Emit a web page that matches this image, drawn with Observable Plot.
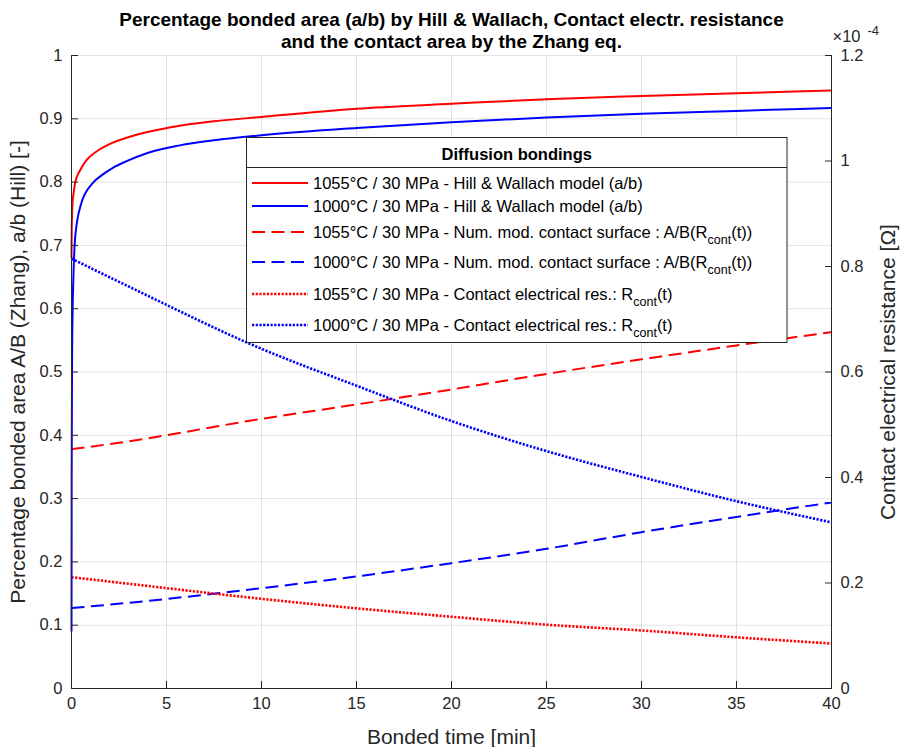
<!DOCTYPE html>
<html>
<head>
<meta charset="utf-8">
<script src="https://cdn.jsdelivr.net/npm/d3@7"></script>
<script src="https://cdn.jsdelivr.net/npm/@observablehq/plot@0.6"></script>
<style>
  html, body { margin: 0; padding: 0; background: #fff; }
  svg { display: block; }
</style>
</head>
<body>
<div id="chart"></div>
<script>
// ---- Hill & Wallach bonded fraction a/b (left axis, -) ----
const tHill1055 = [0, 0.01, 0.03, 0.06, 0.1, 0.2, 0.44, 0.8, 1.3, 2, 2.9, 4, 5.7, 7.5, 10, 15, 20, 25, 30, 35, 40];
const abHill1055 = [0.68, 0.72, 0.75, 0.77, 0.78, 0.80, 0.818, 0.835, 0.848, 0.86, 0.870, 0.879, 0.889, 0.896, 0.903, 0.916, 0.9237, 0.931, 0.936, 0.9405, 0.9447];
const tHill1000 = [0, 0.01, 0.03, 0.06, 0.1, 0.2, 0.5, 1.1, 1.6, 2.2, 2.9, 4, 5.7, 7.5, 10, 15, 20, 25, 30, 35, 40];
const abHill1000 = [0.09, 0.35, 0.52, 0.60, 0.65, 0.715, 0.765, 0.798, 0.811, 0.823, 0.833, 0.846, 0.858, 0.866, 0.874, 0.8855, 0.8947, 0.902, 0.9078, 0.9125, 0.917];

// ---- Numerical model contact surface A/B from R_cont(t) (left axis, -) ----
const tArea = [0, 2.9, 10, 15, 20, 25, 30, 35, 40];
const area1055 = [0.378, 0.390, 0.426, 0.4487, 0.4724, 0.497, 0.520, 0.542, 0.563];
const area1000 = [0.127, 0.135, 0.1585, 0.177, 0.198, 0.2207, 0.247, 0.271, 0.294];

// ---- Contact electrical resistance R_cont(t) (right axis, x1e-4 Ohm) ----
const tRes = [0, 2.9, 10, 15, 20, 25, 30, 35, 40];
const res1055 = [0.211, 0.199, 0.170, 0.152, 0.136, 0.121, 0.110, 0.097, 0.0853];
const res1000 = [0.815, 0.764, 0.644, 0.574, 0.507, 0.450, 0.401, 0.355, 0.315];

// ---- Axes ----
const xTicks = [0, 5, 10, 15, 20, 25, 30, 35, 40];
const leftTicks = [0, 0.1, 0.2, 0.3, 0.4, 0.5, 0.6, 0.7, 0.8, 0.9, 1];
const rightTicks = [0, 0.2, 0.4, 0.6, 0.8, 1, 1.2];   // x1e-4 Ohm
const rightMax = 1.2;                                 // right axis top, aligned with left top (1)

const titleText = "Percentage bonded area (a/b) by Hill & Wallach, Contact electr. resistance\nand the contact area by the Zhang eq.";
const xLabel = "Bonded time [min]";
const yLeftLabel = "Percentage bonded area A/B (Zhang), a/b (Hill) [-]";
const yRightLabel = "Contact electrical resistance [Ω]";
const legendTitle = "Diffusion bondings";
const seriesNames = [
  "1055°C / 30 MPa - Hill & Wallach model (a/b)",
  "1000°C / 30 MPa - Hill & Wallach model (a/b)",
  "1055°C / 30 MPa - Num. mod. contact surface : A/B(R_{cont}(t))",
  "1000°C / 30 MPa - Num. mod. contact surface : A/B(R_{cont}(t))",
  "1055°C / 30 MPa - Contact electrical res.: R_{cont}(t)",
  "1000°C / 30 MPa - Contact electrical res.: R_{cont}(t)"
];

const RED = "#ff0000", BLUE = "#0000ff";
const DASH = "13,6.5", DOT = "2.2,1.5";
const FONT = '"Liberation Sans", Arial, Helvetica, sans-serif';
const INK = "#262626";

const zip = (ts, vs) => ts.map((t, i) => ({t, v: vs[i]}));

const series = [
  {data: zip(tHill1055, abHill1055), stroke: RED, dash: null, width: 2, right: false},
  {data: zip(tHill1000, abHill1000), stroke: BLUE, dash: null, width: 2, right: false},
  {data: zip(tArea, area1055), stroke: RED, dash: DASH, width: 2, right: false},
  {data: zip(tArea, area1000), stroke: BLUE, dash: DASH, width: 2, right: false},
  {data: zip(tRes, res1055), stroke: RED, dash: DOT, width: 2.6, right: true},
  {data: zip(tRes, res1000), stroke: BLUE, dash: DOT, width: 2.6, right: true}
];

// Draw order: dashed and dotted first, then solid on top
const drawOrder = [2, 3, 4, 5, 0, 1];

const lineMarks = drawOrder.map(i => {
  const s = series[i];
  return Plot.line(s.data, {
    x: "t",
    y: s.right ? d => d.v / rightMax : "v",
    stroke: s.stroke,
    strokeWidth: s.width,
    strokeDasharray: s.dash,
    strokeLinecap: "butt",
    curve: "monotone-x"
  });
});

const fmt = d3.format("~g");

const chart = Plot.plot({
  width: 903,
  height: 747,
  marginTop: 55,
  marginRight: 72,
  marginBottom: 59,
  marginLeft: 71,
  style: {fontFamily: FONT, fontSize: "16.5px", color: INK, background: "#fff", overflow: "visible"},
  x: {domain: [0, 40]},
  y: {domain: [0, 1]},
  marks: [
    Plot.gridX(xTicks, {stroke: "#000", strokeOpacity: 0.11}),
    Plot.gridY(leftTicks, {stroke: "#000", strokeOpacity: 0.11}),
    ...lineMarks,
    Plot.ruleX([0, 40], {stroke: INK, strokeWidth: 1}),
    Plot.ruleY([0], {stroke: INK, strokeWidth: 1}),
    Plot.axisX(xTicks, {anchor: "bottom", tickSize: -7, tickPadding: 16, tickFormat: fmt, label: null, stroke: INK, fill: INK, fontSize: 16.5}),
    Plot.axisY(leftTicks, {anchor: "left", tickSize: -7, tickPadding: 16, tickFormat: fmt, label: null, stroke: INK, fill: INK, fontSize: 16.5}),
    Plot.axisY(rightTicks.map(v => v / rightMax), {anchor: "right", tickSize: -7, tickPadding: 16,
      tickFormat: d => fmt(+(d * rightMax).toFixed(4)), label: null, stroke: INK, fill: INK, fontSize: 16.5}),
    // title
    Plot.text([titleText], {frameAnchor: "top", lineAnchor: "middle", dy: -26, fontWeight: "bold", fontSize: 19, lineHeight: 1.16, fill: "#000"}),
    // axis labels
    Plot.text([xLabel], {frameAnchor: "bottom", lineAnchor: "middle", dy: 49, fontSize: 21, fill: INK}),
    Plot.text([yLeftLabel], {frameAnchor: "left", textAnchor: "middle", lineAnchor: "middle", dx: -53, rotate: -90, fontSize: 21, fill: INK}),
    Plot.text([yRightLabel], {frameAnchor: "right", textAnchor: "middle", lineAnchor: "middle", dx: 57, rotate: -90, fontSize: 21, fill: INK}),
    // exponent of the right axis
    Plot.text(["×10"], {frameAnchor: "top-right", textAnchor: "start", lineAnchor: "middle", dx: 1, dy: -19, fontSize: 16.5, fill: INK}),
    Plot.text(["-4"], {frameAnchor: "top-right", textAnchor: "start", lineAnchor: "middle", dx: 36, dy: -25, fontSize: 13, fill: INK})
  ]
});

document.getElementById("chart").appendChild(chart);

// ---- Legend box ----
const legend = {x: 246.5, y: 137.5, w: 540.5, h: 205, titleY: 154, sepY: 167.5,
  rowY: [183, 206, 232, 262, 294, 325], sampleX1: 252, sampleX2: 308, textX: 313};

const svg = d3.select(chart);
const g = svg.append("g")
  .attr("font-family", FONT).attr("font-size", 16.5).attr("fill", "#000")
  .attr("text-anchor", "start");
g.append("rect")
  .attr("x", legend.x).attr("y", legend.y).attr("width", legend.w).attr("height", legend.h)
  .attr("fill", "#fff").attr("stroke", INK).attr("stroke-width", 1);
g.append("text")
  .attr("x", legend.x + legend.w / 2).attr("y", legend.titleY)
  .attr("text-anchor", "middle").attr("dy", "0.35em").attr("font-weight", "bold")
  .text(legendTitle);
g.append("line")
  .attr("x1", legend.x).attr("x2", legend.x + legend.w)
  .attr("y1", legend.sepY).attr("y2", legend.sepY)
  .attr("stroke", INK).attr("stroke-width", 1);

series.forEach((s, i) => {
  const y = legend.rowY[i];
  g.append("line")
    .attr("x1", legend.sampleX1).attr("x2", legend.sampleX2)
    .attr("y1", y).attr("y2", y)
    .attr("stroke", s.stroke).attr("stroke-width", s.width)
    .attr("stroke-dasharray", s.dash).attr("stroke-linecap", "butt");
  const text = g.append("text")
    .attr("x", legend.textX).attr("y", y).attr("dy", "0.35em")
    .attr("text-anchor", "start");
  // split "_{...}" subscripts into tspans
  const parts = seriesNames[i].split(/(_\{[^}]*\})/).filter(p => p.length);
  let lowered = false;
  parts.forEach(p => {
    if (p.startsWith("_{")) {
      text.append("tspan").attr("font-size", 12.5).attr("dy", 6).text(p.slice(2, -1));
      lowered = true;
    } else {
      const ts = text.append("tspan").text(p);
      if (lowered) { ts.attr("dy", -6); lowered = false; }
    }
  });
});
</script>
</body>
</html>
